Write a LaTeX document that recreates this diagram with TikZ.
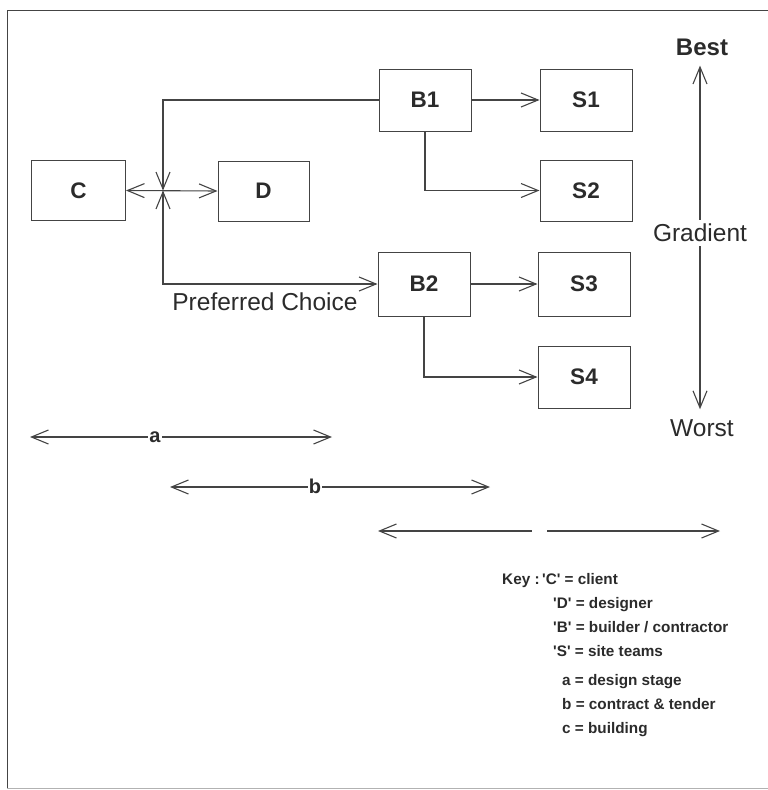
\documentclass[tikz,border=0pt]{standalone}
\usepackage{fontspec}
\setmainfont{Liberation Sans}
\usetikzlibrary{arrows.meta}
\definecolor{ink}{HTML}{2B2B2B}
\definecolor{lin}{HTML}{444444}
\begin{document}
\begin{tikzpicture}[x=1pt,y=-1pt,
  box/.style={draw=lin, line width=1pt, minimum width=92pt, minimum height=62pt,
    font=\fontsize{22.5}{26}\selectfont\bfseries, text=ink, inner sep=0pt},
  conn/.style={draw=lin, line width=1.1pt},
  tip/.style={-{Straight Barb[length=17pt,width=14pt]}},
  tiptip/.style={{Straight Barb[length=17pt,width=14pt]}-{Straight Barb[length=17pt,width=14pt]}},
  tipback/.style={{Straight Barb[length=17pt,width=14pt]}-},
  lbl/.style={text=ink, inner sep=0pt},
  dimlbl/.style={text=ink, fill=white, inner sep=1pt, font=\fontsize{20}{24}\selectfont\bfseries},
  keytxt/.style={text=ink, inner sep=0pt, anchor=base west, font=\fontsize{15.3}{18}\selectfont\bfseries}]
\useasboundingbox (0,0) rectangle (768,790);
% frame
\draw[lin, line width=1pt] (768,10) -- (7,10) -- (7,788);
\draw[gray!60, line width=0.8pt] (7,788) -- (768,788);

% boxes
\node[box, minimum width=94pt, minimum height=60pt] (C) at (78.5,190.5) {C};
\node[box, minimum width=91pt, minimum height=60pt] (D) at (263.5,191) {D};
\node[box] (B1) at (425,100) {B1};
\node[box] (S1) at (586,100) {S1};
\node[box, minimum height=61pt] (S2) at (586,190.5) {S2};
\node[box, minimum height=64pt] (B2) at (424,284) {B2};
\node[box, minimum height=64pt] (S3) at (584,284) {S3};
\node[box] (S4) at (584,377) {S4};

% junction
\coordinate (J) at (163,190.5);
\draw[conn, tiptip] (C.east) -- (D.west);
\draw[conn, tip] (B1.west) -| (J);
\draw[conn, tiptip] (J) |- (B2.west);
\node[lbl, font=\fontsize{24.5}{28}\selectfont] (pref) at (265,302) {Preferred Choice};

\draw[conn, tip] (B1) -- (S1);
\draw[conn, tip] (B1.south) |- (S2.west);
\draw[conn, tip] (B2) -- (S3);
\draw[conn, tip] (B2.south) |- (S4.west);

% gradient
\node[lbl, font=\fontsize{24}{28}\selectfont\bfseries] (best) at (702,47) {Best};
\node[lbl, font=\fontsize{24.5}{28}\selectfont, fill=white, inner sep=4pt] (grad) at (700,233) {Gradient};
\node[lbl, font=\fontsize{24.5}{28}\selectfont] (worst) at (702,428) {Worst};
\draw[conn, tip] (grad.north) -- ([yshift=-10pt]grad.north |- best.south);
\draw[conn, tip] (grad.south) -- ([yshift=10pt]grad.south |- worst.north);

% stage arrows
\coordinate (a1) at (30,437);
\coordinate (a2) at (332,437);
\coordinate (b1) at (170,487);
\coordinate (b2) at (490,487);
\coordinate (c1) at (378,531);
\coordinate (cg1) at (532,531);
\coordinate (cg2) at (547,531);
\coordinate (c2) at (720,531);
\draw[conn, tiptip] (a1) -- (a2);
\draw[conn, tiptip] (b1) -- (b2);
\draw[conn, tipback] (c1) -- (cg1);
\draw[conn, tip] (cg2) -- (c2);
\node[dimlbl] (la) at (155,437) {a};
\node[dimlbl] (lb) at (315,486) {b};

% key
\node[keytxt] (k1) at (502,584) {Key :\,\textquotesingle C\textquotesingle{} = client};
\node[keytxt] (k2) at (553,608) {\textquotesingle D\textquotesingle{} = designer};
\node[keytxt] (k3) at (553,632) {\textquotesingle B\textquotesingle{} = builder / contractor};
\node[keytxt] (k4) at (553,656) {\textquotesingle S\textquotesingle{} = site teams};
\node[keytxt] (k5) at (562,685) {a = design stage};
\node[keytxt] (k6) at (562,709) {b = contract \& tender};
\node[keytxt] (k7) at (562,733) {c = building};
\end{tikzpicture}
\end{document}
